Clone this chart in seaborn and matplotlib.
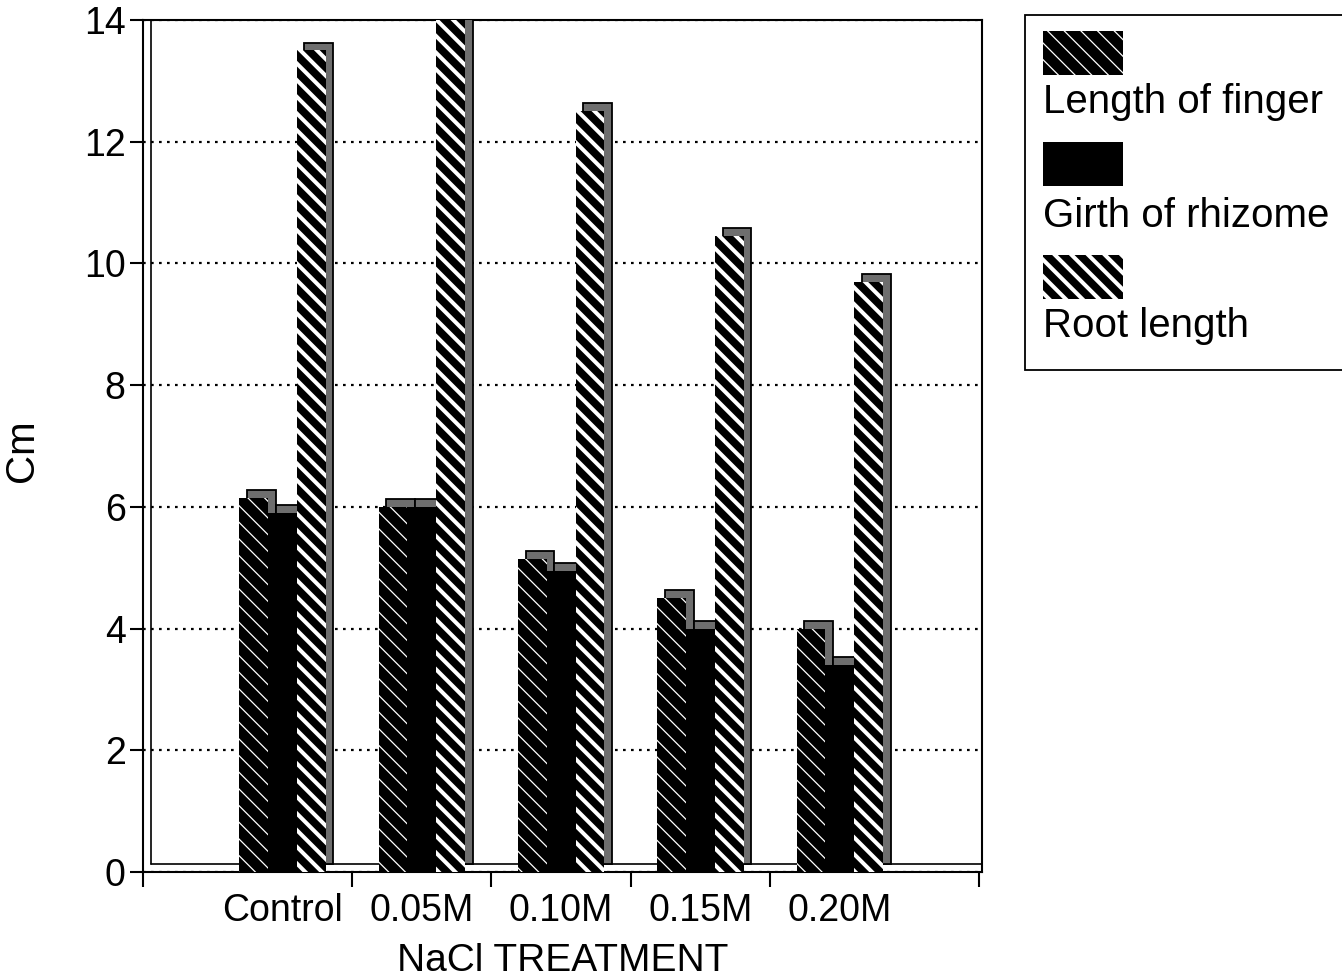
import numpy as np
import pandas as pd
import matplotlib
matplotlib.use("Agg")
import matplotlib.pyplot as plt
from matplotlib.patches import Rectangle
import seaborn as sns

# Data (cm) for each NaCl treatment
treatments = ["Control", "0.05M", "0.10M", "0.15M", "0.20M"]
length_of_finger = [6.15, 6.0, 5.15, 4.5, 4.0]
girth_of_rhizome = [5.9, 6.0, 4.95, 4.0, 3.4]
root_length = [13.5, 14.0, 12.5, 10.45, 9.7]
series_names = ["Length of finger", "Girth of rhizome", "Root length"]
y_ticks = [0, 2, 4, 6, 8, 10, 12, 14]

sns.set_theme(style="white")
plt.rcParams["font.family"] = ["Liberation Sans", "DejaVu Sans"]

df = pd.DataFrame({
    "NaCl TREATMENT": treatments * 3,
    "Cm": length_of_finger + girth_of_rhizome + root_length,
    "measure": [n for n in series_names for _ in treatments],
})

# fill style per series: (hatch, hatch line width)
styles = {
    "Length of finger": ("\\\\", 0.9),
    "Girth of rhizome": (None, 1.0),
    "Root length": ("\\\\", 2.9),
}


def style_patch(p, name):
    hatch, hw = styles[name]
    p.set_facecolor("black")
    p.set_edgecolor("white")
    p.set_linewidth(0)
    if hatch:
        p.set_hatch(hatch)
        if hasattr(p, "set_hatch_linewidth"):
            p.set_hatch_linewidth(hw)
        else:
            plt.rcParams["hatch.linewidth"] = hw


fig = plt.figure(figsize=(13.42, 9.8), dpi=100)
ax = fig.add_axes([0.1066, 0.1102, 0.6251, 0.8694])

sns.barplot(data=df, x="NaCl TREATMENT", y="Cm", hue="measure",
            order=treatments, hue_order=series_names,
            palette={n: "black" for n in series_names},
            width=0.62, gap=0, saturation=1, linewidth=0,
            errorbar=None, legend=False, ax=ax)

# pseudo-3D depth: shaded back face behind every bar
dx, dy = 0.055, 0.13
for i, (name, cont) in enumerate(zip(series_names, ax.containers)):
    for p in cont.patches:
        style_patch(p, name)
        p.set_zorder(3 + 2 * i)
        back = Rectangle((p.get_x() + dx, dy), p.get_width(), p.get_height(),
                         facecolor="#6e6e6e", edgecolor="black", linewidth=1.3,
                         zorder=2 + 2 * i)
        ax.add_patch(back)

ax.set_xlim(-1.0, 5.02)
ax.set_ylim(0, 14)

# back wall / floor edges
ax.plot([-1 + dx, -1 + dx], [dy, 14], color="black", lw=1.2, zorder=1)
ax.plot([-1 + dx, 5.02], [dy, dy], color="black", lw=1.2, zorder=1)

ax.set_yticks(y_ticks)
ax.set_yticklabels([str(v) for v in y_ticks])
ax.grid(axis="y", color="black", linestyle=(0, (1.2, 2.4)), linewidth=1.6)
ax.grid(axis="x", visible=False)
ax.set_axisbelow(True)

ax.set_xticks(range(len(treatments)))
ax.set_xticklabels(treatments)
ax.set_xticks([-1, 0.5, 1.5, 2.5, 3.5, 5], minor=True)
ax.tick_params(axis="x", which="major", length=0, pad=15, labelsize=27, colors="black")
ax.tick_params(axis="x", which="minor", length=11, width=1.5, direction="out",
               color="black", bottom=True)
ax.tick_params(axis="y", which="major", length=9.5, width=1.5, direction="out",
               pad=3, labelsize=27, colors="black", left=True)

for s in ax.spines.values():
    s.set_color("black")
    s.set_linewidth(1.5)

ax.set_xlabel("NaCl TREATMENT", fontsize=28, color="black", labelpad=10)
ax.set_ylabel("Cm", fontsize=29, color="black")
ax.yaxis.set_label_coords(-0.122, 0.495)

# legend: swatch above its label, inside an outlined box
fig.patches.append(Rectangle((1025 / 1342, 1 - 370 / 980), 0.26, 355 / 980,
                             transform=fig.transFigure, facecolor="white",
                             edgecolor="black", linewidth=1.3))
swatch_tops = [31, 142, 255]
label_baselines = [113, 227, 337]
for name, top, base in zip(series_names, swatch_tops, label_baselines):
    sw = Rectangle((1043 / 1342, 1 - (top + 44) / 980), 80 / 1342, 44 / 980,
                   transform=fig.transFigure)
    style_patch(sw, name)
    fig.patches.append(sw)
    fig.text(1043 / 1342, 1 - base / 980, name, fontsize=29, color="black",
             ha="left", va="baseline")

fig.savefig("out.png", dpi=100)
